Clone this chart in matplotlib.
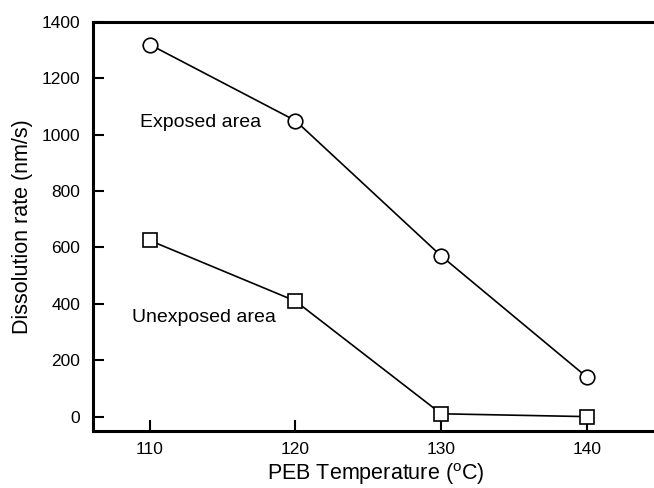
import matplotlib
matplotlib.use("Agg")
import matplotlib.pyplot as plt

plt.rcParams['font.family'] = ['Liberation Sans', 'DejaVu Sans']
plt.rcParams['mathtext.fontset'] = 'custom'
plt.rcParams['mathtext.rm'] = 'Liberation Sans'

temps = [110, 120, 130, 140]
exposed = [1320, 1050, 570, 140]
unexposed = [625, 410, 10, 0]

fig = plt.figure(figsize=(6.54, 4.88), dpi=100)
# right spine sits just past the image edge, as in the original
ax = fig.add_axes([0.142, 0.1174, 0.864, 0.8375])

ax.plot(temps, exposed, color='black', lw=1.2, marker='o', ms=10.5,
        mfc='white', mec='black', mew=1.2)
ax.plot(temps, unexposed, color='black', lw=1.2, marker='s', ms=9.5,
        mfc='white', mec='black', mew=1.2)

ax.text(109.3, 1045, "Exposed area", fontsize=14, va='center')
ax.text(108.8, 350, "Unexposed area", fontsize=14, va='center')

ax.set_xlim(106.1, 144.87)
ax.set_ylim(-50, 1400)
ax.set_xticks(temps)
ax.set_yticks(range(0, 1401, 200))

for side in ['left', 'bottom', 'top']:
    ax.spines[side].set_linewidth(2.2)
ax.spines['right'].set_visible(False)
ax.tick_params(direction='in', length=8, width=1.5, labelsize=12.5, pad=8)
ax.tick_params(axis='y', pad=9)

ax.set_xlabel(r"PEB Temperature ($^\mathrm{o}$C)", fontsize=15.5, labelpad=3)
ax.set_ylabel("Dissolution rate (nm/s)", fontsize=15.5, labelpad=6)

fig.savefig("out.png", dpi=100)
